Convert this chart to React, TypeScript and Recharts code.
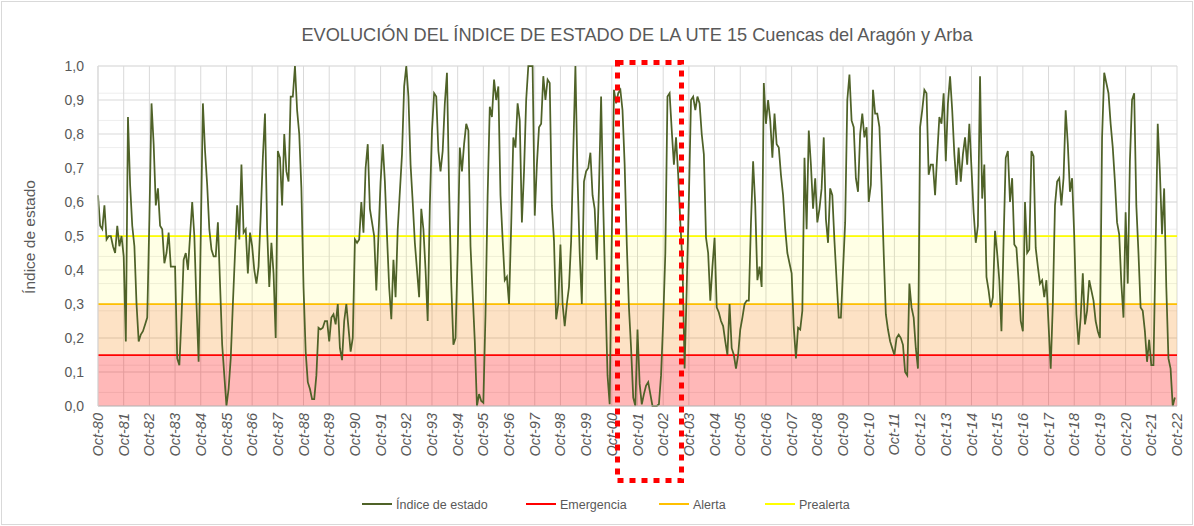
import { LineChart, Line, XAxis, YAxis, CartesianGrid, ReferenceArea, ReferenceLine } from 'recharts';

const TEXT = '#595959';
const FONT = '"Liberation Sans", Arial, sans-serif';

// etiquetas del eje X (una por año hidrológico)
const YEAR_TICKS = [
  'Oct-80', 'Oct-81', 'Oct-82', 'Oct-83', 'Oct-84', 'Oct-85', 'Oct-86', 'Oct-87', 'Oct-88', 'Oct-89',
  'Oct-90', 'Oct-91', 'Oct-92', 'Oct-93', 'Oct-94', 'Oct-95', 'Oct-96', 'Oct-97', 'Oct-98', 'Oct-99',
  'Oct-00', 'Oct-01', 'Oct-02', 'Oct-03', 'Oct-04', 'Oct-05', 'Oct-06', 'Oct-07', 'Oct-08', 'Oct-09',
  'Oct-10', 'Oct-11', 'Oct-12', 'Oct-13', 'Oct-14', 'Oct-15', 'Oct-16', 'Oct-17', 'Oct-18', 'Oct-19',
  'Oct-20', 'Oct-21', 'Oct-22',
];
const MONTHS = ['Oct', 'Nov', 'Dic', 'Ene', 'Feb', 'Mar', 'Abr', 'May', 'Jun', 'Jul', 'Ago', 'Sep'];
const Y_TICKS = [0, 0.1, 0.2, 0.3, 0.4, 0.5, 0.6, 0.7, 0.8, 0.9, 1];

// índice de estado mensual, oct-80 ... sep-90
const indice8090 = [
  0.62, 0.53, 0.52, 0.59, 0.49, 0.50, 0.50, 0.47, 0.45, 0.53, 0.47, 0.50,
  0.44, 0.19, 0.85, 0.65, 0.53, 0.47, 0.30, 0.19, 0.21, 0.22, 0.24, 0.26,
  0.55, 0.89, 0.77, 0.59, 0.64, 0.53, 0.52, 0.42, 0.45, 0.51, 0.41, 0.41,
  0.41, 0.14, 0.12, 0.26, 0.43, 0.45, 0.40, 0.50, 0.60, 0.50, 0.30, 0.13,
  0.50, 0.89, 0.75, 0.65, 0.52, 0.46, 0.44, 0.44, 0.54, 0.36, 0.18, 0.09,
  0.00, 0.05, 0.14, 0.30, 0.45, 0.59, 0.49, 0.71, 0.51, 0.52, 0.39, 0.51,
  0.47, 0.40, 0.36, 0.41, 0.56, 0.73, 0.86, 0.52, 0.35, 0.48, 0.39, 0.20,
  0.75, 0.73, 0.59, 0.80, 0.69, 0.66, 0.91, 0.91, 1.00, 0.87, 0.80, 0.64,
  0.35, 0.16, 0.07, 0.05, 0.02, 0.02, 0.09, 0.23, 0.225, 0.23, 0.25, 0.25,
  0.19, 0.26, 0.27, 0.24, 0.30, 0.17, 0.135, 0.25, 0.30, 0.23, 0.16, 0.20,
];
// oct-90 ... sep-00
const indice9000 = [
  0.49, 0.48, 0.49, 0.60, 0.51, 0.70, 0.77, 0.58, 0.54, 0.50, 0.34, 0.50,
  0.66, 0.77, 0.66, 0.50, 0.35, 0.255, 0.43, 0.32, 0.52, 0.63, 0.74, 0.94,
  1.00, 0.91, 0.71, 0.60, 0.48, 0.40, 0.32, 0.58, 0.52, 0.40, 0.25, 0.59,
  0.81, 0.92, 0.91, 0.75, 0.69, 0.75, 0.89, 0.98, 0.64, 0.36, 0.18, 0.20,
  0.45, 0.76, 0.69, 0.77, 0.83, 0.81, 0.47, 0.33, 0.19, 0.00, 0.035, 0.015,
  0.01, 0.27, 0.62, 0.88, 0.85, 0.96, 0.90, 0.94, 0.62, 0.49, 0.37, 0.38,
  0.30, 0.53, 0.79, 0.76, 0.89, 0.84, 0.54, 0.69, 0.90, 1.00, 1.00, 1.00,
  0.56, 0.71, 0.82, 0.83, 0.97, 0.90, 0.96, 0.95, 0.59, 0.485, 0.255, 0.30,
  0.475, 0.30, 0.235, 0.30, 0.35, 0.485, 0.75, 1.00, 0.67, 0.45, 0.30, 0.66,
  0.69, 0.70, 0.745, 0.62, 0.58, 0.43, 0.64, 0.91, 0.59, 0.33, 0.09, 0.005,
];
// oct-00 ... sep-10
const indice0010 = [
  0.50, 0.93, 0.89, 0.92, 0.93, 0.87, 0.71, 0.475, 0.29, 0.17, 0.025, 0.00,
  0.225, 0.065, 0.005, 0.035, 0.06, 0.07, 0.035, 0.00, 0.00, 0.00, 0.005, 0.09,
  0.25, 0.45, 0.91, 0.92, 0.81, 0.71, 0.79, 0.68, 0.54, 0.42, 0.11, 0.35,
  0.61, 0.90, 0.91, 0.87, 0.91, 0.89, 0.80, 0.74, 0.495, 0.45, 0.31, 0.41,
  0.495, 0.29, 0.275, 0.25, 0.235, 0.19, 0.15, 0.30, 0.17, 0.15, 0.11, 0.15,
  0.225, 0.26, 0.30, 0.31, 0.31, 0.54, 0.72, 0.59, 0.37, 0.41, 0.35, 0.95,
  0.83, 0.90, 0.84, 0.73, 0.86, 0.77, 0.76, 0.68, 0.62, 0.52, 0.45, 0.42,
  0.39, 0.23, 0.14, 0.23, 0.225, 0.28, 0.73, 0.52, 0.81, 0.71, 0.58, 0.67,
  0.54, 0.58, 0.64, 0.79, 0.55, 0.48, 0.64, 0.62, 0.485, 0.37, 0.26, 0.26,
  0.40, 0.54, 0.90, 0.975, 0.84, 0.82, 0.67, 0.63, 0.80, 0.86, 0.79, 0.82,
];
// oct-10 ... sep-20
const indice1020 = [
  0.60, 0.65, 0.93, 0.86, 0.86, 0.82, 0.65, 0.45, 0.27, 0.225, 0.19, 0.17,
  0.15, 0.20, 0.21, 0.20, 0.18, 0.10, 0.09, 0.36, 0.29, 0.26, 0.17, 0.11,
  0.82, 0.87, 0.93, 0.92, 0.68, 0.71, 0.71, 0.62, 0.74, 0.85, 0.83, 0.92,
  0.72, 0.89, 0.97, 0.87, 0.74, 0.65, 0.76, 0.66, 0.74, 0.79, 0.71, 0.83,
  0.70, 0.57, 0.48, 0.53, 0.97, 0.61, 0.71, 0.38, 0.34, 0.29, 0.32, 0.515,
  0.45, 0.37, 0.22, 0.485, 0.73, 0.75, 0.60, 0.67, 0.475, 0.465, 0.37, 0.25,
  0.22, 0.60, 0.45, 0.46, 0.75, 0.735, 0.465, 0.41, 0.36, 0.37, 0.32, 0.37,
  0.24, 0.11, 0.30, 0.59, 0.66, 0.67, 0.59, 0.67, 0.87, 0.77, 0.63, 0.67,
  0.50, 0.27, 0.18, 0.26, 0.39, 0.24, 0.28, 0.37, 0.34, 0.31, 0.25, 0.22,
  0.20, 0.79, 0.98, 0.95, 0.92, 0.83, 0.76, 0.66, 0.54, 0.505, 0.36, 0.26,
];
// oct-20 ... sep-22
const indice2022 = [
  0.57, 0.36, 0.72, 0.90, 0.92, 0.59, 0.45, 0.29, 0.28, 0.22, 0.13, 0.195,
  0.12, 0.12, 0.465, 0.83, 0.69, 0.505, 0.64, 0.35, 0.14, 0.11, 0.00, 0.025,
];

const UMBRALES = [
  { name: 'Emergencia', value: 0.15, color: '#FF0000' },
  { name: 'Alerta', value: 0.3, color: '#FFC000' },
  { name: 'Prealerta', value: 0.5, color: '#FFFF00' },
];

const BANDS = [
  { from: 0, to: 0.15, fill: '#FF0000', opacity: 0.28 },
  { from: 0.15, to: 0.3, fill: '#F9A03F', opacity: 0.3 },
  { from: 0.3, to: 0.5, fill: '#FFFF00', opacity: 0.1 },
];

const indice = [...indice8090, ...indice9000, ...indice0010, ...indice1020, ...indice2022];

const data = indice.map((v, i) => ({
  m: i,
  mes: `${MONTHS[i % 12]}-${String((80 + Math.floor((i + 9) / 12)) % 100).padStart(2, '0')}`,
  v,
}));

const xTicks = YEAR_TICKS.map((_, i) => i * 12);
const minorY = Array.from({ length: 51 }, (_, i) => i / 50);

function XTick({ x, y, payload }: any) {
  const label = YEAR_TICKS[Math.round(payload.value / 12)];
  const ty = y + 7;
  return (
    <text x={x} y={ty} transform={`rotate(-90, ${x}, ${ty})`} textAnchor="end" dy="0.35em"
      fontSize={14.5} fontStyle="italic" fill={TEXT} fontFamily={FONT}>
      {label}
    </text>
  );
}

function YTick({ x, y, payload }: any) {
  return (
    <text x={x - 14} y={y} dy="0.35em" textAnchor="end" fontSize={14} fill={TEXT} fontFamily={FONT}>
      {payload.value.toFixed(1).replace('.', ',')}
    </text>
  );
}

const legendItems = [
  { name: 'Índice de estado', color: '#4F6228', x: 362 },
  { name: 'Emergencia', color: '#FF0000', x: 526 },
  { name: 'Alerta', color: '#FFC000', x: 659 },
  { name: 'Prealerta', color: '#FFFF00', x: 765 },
];

export default function App() {
  return (
    <div style={{ position: 'absolute', left: 0, top: 0, width: 1194, height: 526, background: '#fff', fontFamily: FONT }}>
      <div style={{ position: 'absolute', left: 1, top: 1, width: 1190, height: 522, border: '1px solid #D9D9D9' }} />
      <LineChart width={1194} height={526} data={data} margin={{ top: 66, right: 17, bottom: 0, left: 38 }}>
        <CartesianGrid horizontalValues={minorY} vertical={false} stroke="#EEEEEE" />
        <CartesianGrid horizontalValues={Y_TICKS} verticalValues={xTicks} stroke="#D9D9D9" />
        {BANDS.map((b) => (
          <ReferenceArea key={b.from} y1={b.from} y2={b.to} fill={b.fill} fillOpacity={b.opacity} stroke="none" />
        ))}
        <XAxis dataKey="m" type="number" domain={[0, 504]} ticks={xTicks} interval={0} height={120}
          tickSize={0} tickMargin={0} tickLine={false} axisLine={{ stroke: '#BFBFBF' }} tick={<XTick />} />
        <YAxis type="number" domain={[0, 1]} ticks={Y_TICKS} width={60} tickSize={0} tickMargin={0}
          tickLine={false} axisLine={{ stroke: '#D9D9D9' }} tick={<YTick />} />
        {UMBRALES.map((u) => (
          <ReferenceLine key={u.name} y={u.value} stroke={u.color} strokeWidth={1.75} />
        ))}
        <Line type="linear" dataKey="v" name="Índice de estado" stroke="#4F6228" strokeWidth={1.75}
          dot={false} isAnimationActive={false} />
      </LineChart>
      <svg width={1194} height={526} style={{ position: 'absolute', left: 0, top: 0, pointerEvents: 'none' }}>
        <text x={637} y={41} textAnchor="middle" fontSize={18.2} fill={TEXT} fontFamily={FONT}>
          EVOLUCIÓN DEL ÍNDICE DE ESTADO DE LA UTE 15 Cuencas del Aragón y Arba
        </text>
        <text x={30} y={237} transform="rotate(-90, 30, 237)" textAnchor="middle" dy="0.35em"
          fontSize={15.5} fill={TEXT} fontFamily={FONT}>
          Índice de estado
        </text>
        <rect x={617.5} y={62.5} width={64} height={418} fill="none" stroke="#FF0000" strokeWidth={5}
          strokeDasharray="6 6" />
        {legendItems.map((it) => (
          <g key={it.name}>
            <line x1={it.x} x2={it.x + 30} y1={504} y2={504} stroke={it.color} strokeWidth={2} />
            <text x={it.x + 34} y={508.5} fontSize={12.5} fill={TEXT} fontFamily={FONT}>{it.name}</text>
          </g>
        ))}
      </svg>
    </div>
  );
}
